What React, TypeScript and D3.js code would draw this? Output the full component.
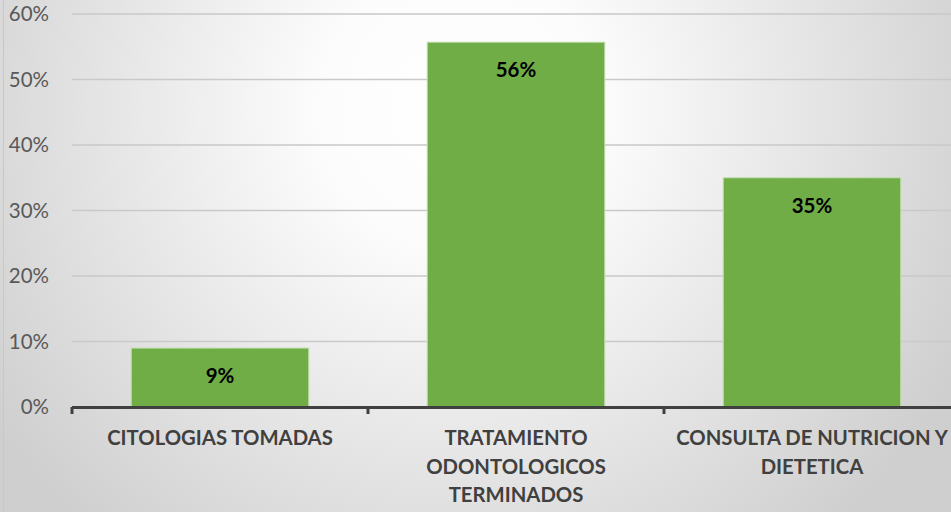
import React from "react";
import * as d3 from "d3";

const categories = ["CITOLOGIAS TOMADAS", "TRATAMIENTO ODONTOLOGICOS TERMINADOS", "CONSULTA DE NUTRICION Y DIETETICA"];
const categoryLines = [["CITOLOGIAS TOMADAS"], ["TRATAMIENTO", "ODONTOLOGICOS", "TERMINADOS"], ["CONSULTA DE NUTRICION Y", "DIETETICA"]];
const values = [0.09, 0.557, 0.35];
const yTicks = [0, 0.1, 0.2, 0.3, 0.4, 0.5, 0.6];

const W = 951, H = 512;

export default function App() {
  const x = d3.scaleBand<string>().domain(categories).range([72, 960]).paddingInner(0.4).paddingOuter(0.2);
  const y = d3.scaleLinear().domain([0, 0.6]).range([407, 14]);
  const step = x.step();
  const fmt = d3.format(".0%");
  const font = "Lato, 'Open Sans', sans-serif";
  return (
    <div style={{ position: "absolute", left: 0, top: 0 }}>
      <svg width={W} height={H} style={{ display: "block" }}>
        <defs>
          <radialGradient id="bg" gradientUnits="userSpaceOnUse" cx={460} cy={110} r={560}>
            <stop offset="0" stopColor="#ffffff" />
            <stop offset="0.25" stopColor="#fcfcfc" />
            <stop offset="1" stopColor="#cfcfcf" />
          </radialGradient>
        </defs>
        <rect x={0} y={0} width={W} height={H} fill="url(#bg)" />
        <line x1={3.5} x2={3.5} y1={0} y2={H} stroke="#c8c8c8" strokeWidth={1} />
        {yTicks.slice(1).map((t) => (
          <line key={t} x1={72} x2={W} y1={y(t)} y2={y(t)} stroke="#c9c9c9" strokeWidth={1.5} />
        ))}
        {yTicks.map((t) => (
          <text key={t} x={49} y={y(t)} dy="0.36em" textAnchor="end" fontFamily={font} fontSize={20.5} fill="#595959">
            {fmt(t)}
          </text>
        ))}
        {categories.map((c, i) => (
          <rect key={c} x={x(c)} y={y(values[i])} width={x.bandwidth()} height={y(0) - y(values[i])}
            fill="#70AD47" stroke="#c5e0b4" strokeWidth={1} />
        ))}
        {categories.map((c, i) => (
          <text key={c} x={(x(c) as number) + x.bandwidth() / 2} y={y(values[i]) + 35} textAnchor="middle"
            fontFamily={font} fontWeight="bold" fontSize={20.5} fill="#000000">
            {fmt(values[i])}
          </text>
        ))}
        <line x1={72} x2={W} y1={407.5} y2={407.5} stroke="#404040" strokeWidth={3} />
        {[0, 1, 2, 3].map((k) => (
          <line key={k} x1={72 + k * step} x2={72 + k * step} y1={407} y2={414} stroke="#404040" strokeWidth={3} />
        ))}
        {categories.map((c, i) => (
          <text key={c} textAnchor="middle" fontFamily={font} fontWeight="bold" fontSize={20.3} fill="#404040">
            {categoryLines[i].map((l, j) => (
              <tspan key={j} x={(x(c) as number) + x.bandwidth() / 2} y={445 + j * 28.5}>{l}</tspan>
            ))}
          </text>
        ))}
      </svg>
    </div>
  );
}
